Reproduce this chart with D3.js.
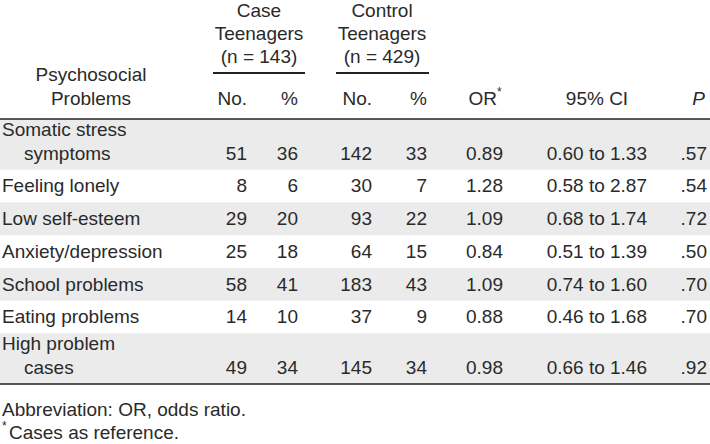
<!DOCTYPE html>
<html><head><meta charset="utf-8">
<script src="https://cdn.jsdelivr.net/npm/d3@7"></script>
<style>body{margin:0;background:#fff}text{font-family:"Liberation Sans",Arial,sans-serif;font-size:19px;fill:#2a2a2a}</style>
</head><body><svg id="t" width="710" height="444"></svg>
<script>
const problems = [["Somatic stress", "symptoms"], ["Feeling lonely"], ["Low self-esteem"], ["Anxiety/depression"], ["School problems"], ["Eating problems"], ["High problem", "cases"]];
const caseNo = [51, 8, 29, 25, 58, 14, 49];
const casePct = [36, 6, 20, 18, 41, 10, 34];
const ctrlNo = [142, 30, 93, 64, 183, 37, 145];
const ctrlPct = [33, 7, 22, 15, 43, 9, 34];
const orVals = ["0.89", "1.28", "1.09", "0.84", "1.09", "0.88", "0.98"];
const ciVals = ["0.60 to 1.33", "0.58 to 2.87", "0.68 to 1.74", "0.51 to 1.39", "0.74 to 1.60", "0.46 to 1.68", "0.66 to 1.46"];
const pVals = [".57", ".54", ".72", ".50", ".70", ".70", ".92"];

const svg = d3.select('#t');
const top0 = 119, bottom0 = 384;
// row heights in units: two-line rows are taller
const units = problems.map(p => p.length > 1 ? 1.55 : 1);
const cum = [0]; units.forEach(u => cum.push(cum[cum.length - 1] + u));
const y = d3.scaleLinear().domain([0, cum[cum.length - 1]]).range([top0, bottom0]);

problems.forEach((p, i) => {
  const y0 = y(cum[i]), y1 = y(cum[i + 1]);
  if (i % 2 === 0) svg.append('rect').attr('x', 0).attr('y', y0).attr('width', 710).attr('height', y1 - y0).attr('fill', '#ebebeb');
  const base = y1 - 10;
  p.forEach((line, k) => svg.append('text').attr('x', k ? 24 : 2).attr('y', base - (p.length - 1 - k) * 24).text(line));
  const cells = [[caseNo[i], 247], [casePct[i], 298], [ctrlNo[i], 372], [ctrlPct[i], 427], [orVals[i], 503], [ciVals[i], 647], [pVals[i], 707]];
  cells.forEach(([v, x]) => svg.append('text').attr('x', x).attr('y', base).attr('text-anchor', 'end').text(v));
});

// header
const hdr = (t, x, yy, anchor) => svg.append('text').attr('x', x).attr('y', yy).attr('text-anchor', anchor || 'middle').text(t);
hdr('Case', 259, 17); hdr('Teenagers', 259, 40); hdr('(n = 143)', 259, 63);
hdr('Control', 382, 17); hdr('Teenagers', 382, 40); hdr('(n = 429)', 382, 63);
hdr('Psychosocial', 91, 81); hdr('Problems', 91, 105);
svg.append('line').attr('x1', 213).attr('x2', 305).attr('y1', 73).attr('y2', 73).attr('stroke', '#222').attr('stroke-width', 2);
svg.append('line').attr('x1', 336).attr('x2', 429).attr('y1', 73).attr('y2', 73).attr('stroke', '#222').attr('stroke-width', 2);
hdr('No.', 247, 105, 'end'); hdr('%', 298, 105, 'end'); hdr('No.', 372, 105, 'end'); hdr('%', 427, 105, 'end');
hdr('OR', 497, 105, 'end'); svg.append('text').attr('x', 497).attr('y', 96).style('font-size', '12px').text('*');
hdr('95% CI', 597, 105);
hdr('P', 705, 105, 'end').style('font-style', 'italic');
svg.append('line').attr('x1', 0).attr('x2', 710).attr('y1', top0).attr('y2', top0).attr('stroke', '#222').attr('stroke-width', 1.5);
svg.append('line').attr('x1', 0).attr('x2', 710).attr('y1', bottom0).attr('y2', bottom0).attr('stroke', '#222').attr('stroke-width', 1.5);

svg.append('text').attr('x', 2).attr('y', 416).text('Abbreviation: OR, odds ratio.');
svg.append('text').attr('x', 2).attr('y', 430).style('font-size', '12px').text('*');
svg.append('text').attr('x', 9).attr('y', 439).text('Cases as reference.');
</script></body></html>
